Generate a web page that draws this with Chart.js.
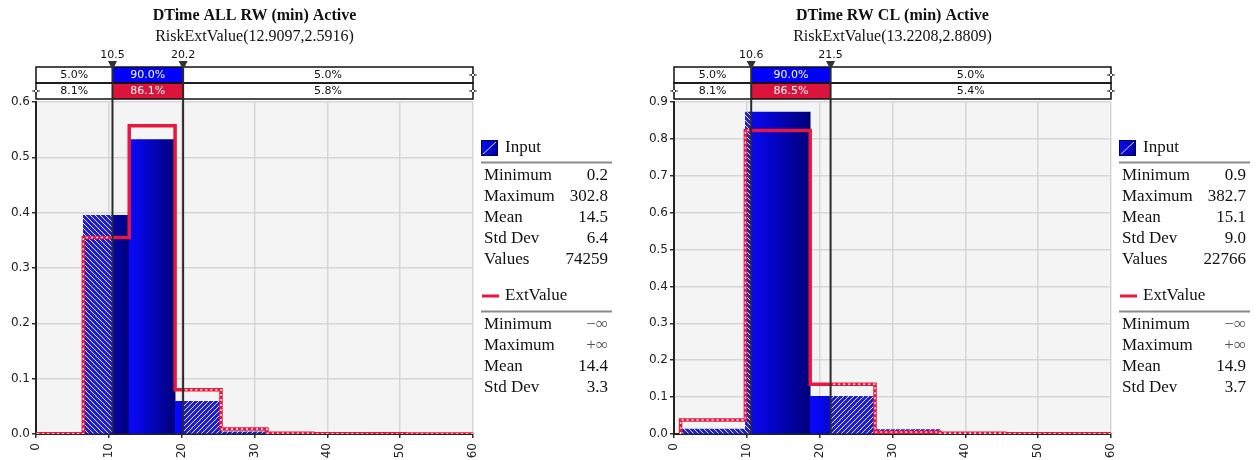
<!DOCTYPE html>
<html>
<head>
<meta charset="utf-8">
<script src="https://cdn.jsdelivr.net/npm/chart.js@4/dist/chart.umd.min.js"></script>
<style>
  html, body { margin: 0; padding: 0; background: #fff; }
  #wrap { position: relative; width: 1260px; height: 460px; overflow: hidden; }
  .panel { position: absolute; top: 0; width: 630px; height: 460px; }
</style>
</head>
<body>
<div id="wrap">
  <div class="panel" style="left:0"><canvas id="chartAll" width="630" height="460"></canvas></div>
  <div class="panel" style="left:630px"><canvas id="chartCl" width="630" height="460"></canvas></div>
</div>
<script>
// ---- DTime ALL RW ----
const allTitle = 'DTime ALL RW (min) Active';
const allSubtitle = 'RiskExtValue(12.9097,2.5916)';
const allBinStart = [0.2, 6.5, 12.8, 19.1, 25.4, 31.7, 38.0, 44.3, 50.6, 56.9];
const allBinWidth = 6.3;
const allInput = [0.0003, 0.395, 0.532, 0.059, 0.004, 0.001, 0.0005, 0.0003, 0.0002, 0.0001];
const allExt   = [0.0005, 0.355, 0.557, 0.080, 0.009, 0.0015, 0.0006, 0.0003, 0.0002, 0.0001];
const allMarks = [10.5, 20.2];
const allInputPct = ['5.0%', '90.0%', '5.0%'];
const allExtPct = ['8.1%', '86.1%', '5.8%'];
const allYMax = 0.6;
const allInputStats = [['Minimum', '0.2'], ['Maximum', '302.8'], ['Mean', '14.5'], ['Std Dev', '6.4'], ['Values', '74259']];
const allExtStats = [['Minimum', '\u2212\u221E'], ['Maximum', '+\u221E'], ['Mean', '14.4'], ['Std Dev', '3.3']];

// ---- DTime RW CL ----
const clTitle = 'DTime RW CL (min) Active';
const clSubtitle = 'RiskExtValue(13.2208,2.8809)';
const clBinStart = [0.9, 9.8, 18.7, 27.6, 36.5, 45.4, 54.3];
const clBinWidth = 8.9;
const clInput = [0.013, 0.873, 0.102, 0.012, 0.003, 0.001, 0.0005];
const clExt   = [0.038, 0.823, 0.135, 0.005, 0.002, 0.001, 0.0005];
const clMarks = [10.6, 21.5];
const clInputPct = ['5.0%', '90.0%', '5.0%'];
const clExtPct = ['8.1%', '86.5%', '5.4%'];
const clYMax = 0.9;
const clInputStats = [['Minimum', '0.9'], ['Maximum', '382.7'], ['Mean', '15.1'], ['Std Dev', '9.0'], ['Values', '22766']];
const clExtStats = [['Minimum', '\u2212\u221E'], ['Maximum', '+\u221E'], ['Mean', '14.9'], ['Std Dev', '3.7']];

const SANS = '"DejaVu Sans", Verdana, sans-serif';
const SERIF = '"Liberation Serif", "Times New Roman", serif';
const RED = '#e8173f';
const CRIMSON = '#dc143c';

Chart.defaults.font.family = SANS;

function hatchPattern(ctx, rising) {
  const c = document.createElement('canvas');
  c.width = 5; c.height = 5;
  const g = c.getContext('2d');
  g.fillStyle = '#1e1ed2';
  g.fillRect(0, 0, 5, 5);
  g.strokeStyle = 'rgba(255,255,255,0.9)';
  g.lineWidth = 1;
  g.beginPath();
  if (rising) {
    g.moveTo(-1, 6); g.lineTo(6, -1);
    g.moveTo(-1, 1); g.lineTo(1, -1);
    g.moveTo(4, 6); g.lineTo(6, 4);
  } else {
    g.moveTo(-1, -1); g.lineTo(6, 6);
    g.moveTo(4, -1); g.lineTo(6, 1);
    g.moveTo(-1, 4); g.lineTo(1, 6);
  }
  g.stroke();
  return ctx.createPattern(c, 'repeat');
}

// clip a dataset to the region inside or outside the two percentile marks
const zoneClip = {
  id: 'zoneClip',
  beforeDatasetDraw(chart, args) {
    const ds = chart.data.datasets[args.index];
    if (!ds.zone) return;
    const { ctx, chartArea: a, scales: { x } } = chart;
    const marks = chart.options.plugins.panel.marks;
    const m0 = x.getPixelForValue(marks[0]);
    const m1 = x.getPixelForValue(marks[1]);
    const top = a.top - 10, h = a.bottom - a.top + 20;
    ctx.save();
    ctx.beginPath();
    if (ds.zone === 'inside') {
      ctx.rect(m0, top, m1 - m0, h);
    } else {
      ctx.rect(a.left - 10, top, m0 - a.left + 10, h);
      ctx.rect(m1, top, a.right - m1 + 10, h);
    }
    ctx.clip();
  },
  afterDatasetDraw(chart, args) {
    const ds = chart.data.datasets[args.index];
    if (ds.zone) chart.ctx.restore();
  }
};

const plotBackground = {
  id: 'plotBackground',
  beforeDraw(chart) {
    const { ctx, chartArea: a } = chart;
    ctx.save();
    ctx.fillStyle = '#f4f4f4';
    ctx.fillRect(a.left, a.top, a.right - a.left, a.bottom - a.top);
    ctx.restore();
  }
};

function endMarker(ctx, x, y) {
  ctx.save();
  ctx.strokeStyle = '#333';
  ctx.lineWidth = 1;
  ctx.beginPath();
  ctx.moveTo(x - 4, y); ctx.lineTo(x + 4, y);
  ctx.moveTo(x, y - 4); ctx.lineTo(x, y + 4);
  ctx.stroke();
  ctx.fillStyle = '#fff';
  ctx.beginPath();
  ctx.moveTo(x, y - 2); ctx.lineTo(x + 2, y); ctx.lineTo(x, y + 2); ctx.lineTo(x - 2, y); ctx.closePath();
  ctx.fill(); ctx.stroke();
  ctx.restore();
}

// titles, percentile band, marker lines and the statistics legend
const panelDecor = {
  id: 'panel',
  afterDraw(chart, args, opts) {
    const { ctx, chartArea: a, scales: { x } } = chart;
    const cx = (a.left + a.right) / 2;
    ctx.save();
    ctx.fillStyle = '#111';
    ctx.textAlign = 'center';
    ctx.textBaseline = 'middle';
    ctx.font = 'bold 16px ' + SERIF;
    ctx.fillText(opts.title, cx, 16);
    ctx.font = '16px ' + SERIF;
    ctx.fillText(opts.subtitle, cx, 37);

    const m0 = x.getPixelForValue(opts.marks[0]);
    const m1 = x.getPixelForValue(opts.marks[1]);
    const r1 = 67, r2 = 83, r3 = 99;

    // band rows
    ctx.fillStyle = '#fff';
    ctx.fillRect(a.left, r1, a.right - a.left, r3 - r1);
    ctx.fillStyle = '#0000ff';
    ctx.fillRect(m0, r1, m1 - m0, r2 - r1);
    ctx.fillStyle = CRIMSON;
    ctx.fillRect(m0, r2, m1 - m0, r3 - r2);
    ctx.strokeStyle = '#111';
    ctx.lineWidth = 1.5;
    ctx.strokeRect(a.left, r1, a.right - a.left, r2 - r1);
    ctx.strokeRect(a.left, r2, a.right - a.left, r3 - r2);

    ctx.font = '11px ' + SANS;
    const rows = [[opts.inputPct, (r1 + r2) / 2], [opts.extPct, (r2 + r3) / 2]];
    rows.forEach(([pct, y]) => {
      ctx.fillStyle = '#111';
      ctx.fillText(pct[0], (a.left + m0) / 2, y + 0.5);
      ctx.fillText(pct[2], (m1 + a.right) / 2, y + 0.5);
      ctx.fillStyle = '#fff';
      ctx.fillText(pct[1], (m0 + m1) / 2, y + 0.5);
    });
    endMarker(ctx, a.right, (r1 + r2) / 2);
    endMarker(ctx, a.left, (r2 + r3) / 2);
    endMarker(ctx, a.right, (r2 + r3) / 2);

    // percentile marker lines
    ctx.strokeStyle = '#2a2a2a';
    ctx.lineWidth = 2;
    [m0, m1].forEach((mx, i) => {
      ctx.beginPath();
      ctx.moveTo(mx, 64);
      ctx.lineTo(mx, a.bottom);
      ctx.stroke();
      ctx.fillStyle = '#333';
      ctx.beginPath();
      ctx.moveTo(mx - 4.5, 61); ctx.lineTo(mx + 4.5, 61); ctx.lineTo(mx, 70); ctx.closePath();
      ctx.fill();
      ctx.fillStyle = '#111';
      ctx.font = '11px ' + SANS;
      ctx.fillText(opts.marks[i].toFixed(1), mx, 55);
    });

    // legend
    const L = a.right;
    ctx.textBaseline = 'middle';
    ctx.font = '17px ' + SERIF;
    const ig = ctx.createLinearGradient(L + 8, 0, L + 25, 0);
    ig.addColorStop(0, '#0a0aff'); ig.addColorStop(1, '#0000a0');
    ctx.fillStyle = ig;
    ctx.fillRect(L + 8, 140, 17, 16);
    ctx.strokeStyle = '#000050'; ctx.lineWidth = 1;
    ctx.strokeRect(L + 8.5, 140.5, 16, 15);
    ctx.strokeStyle = 'rgba(255,255,255,0.85)';
    ctx.beginPath(); ctx.moveTo(L + 10, 154); ctx.lineTo(L + 23, 142); ctx.stroke();
    ctx.fillStyle = '#111';
    ctx.textAlign = 'left';
    ctx.fillText('Input', L + 32, 148);
    ctx.strokeStyle = '#8a8a8a'; ctx.lineWidth = 2;
    ctx.beginPath(); ctx.moveTo(L + 8, 162.5); ctx.lineTo(L + 139, 162.5); ctx.stroke();
    opts.inputStats.forEach(([k, v], i) => {
      const y = 175.5 + 21 * i;
      ctx.fillStyle = '#111';
      ctx.textAlign = 'left'; ctx.fillText(k, L + 11, y);
      ctx.textAlign = 'right'; ctx.fillText(v, L + 135, y);
    });
    ctx.strokeStyle = RED; ctx.lineWidth = 3;
    ctx.beginPath(); ctx.moveTo(L + 9, 296); ctx.lineTo(L + 26, 296); ctx.stroke();
    ctx.fillStyle = '#111';
    ctx.textAlign = 'left';
    ctx.fillText('ExtValue', L + 32, 296);
    ctx.strokeStyle = '#8a8a8a'; ctx.lineWidth = 2;
    ctx.beginPath(); ctx.moveTo(L + 8, 311.5); ctx.lineTo(L + 139, 311.5); ctx.stroke();
    opts.extStats.forEach(([k, v], i) => {
      const y = 324.5 + 21 * i;
      ctx.fillStyle = '#111';
      ctx.textAlign = 'left'; ctx.fillText(k, L + 11, y);
      ctx.fillStyle = v.indexOf('\u221E') >= 0 ? '#555' : '#111';
      ctx.textAlign = 'right'; ctx.fillText(v, L + 135, y);
    });
    ctx.restore();
  }
};

function buildPanel(canvasId, spec) {
  const canvas = document.getElementById(canvasId);
  const ctx2d = canvas.getContext('2d');
  const hatchDown = hatchPattern(ctx2d, false);
  const hatchUp = hatchPattern(ctx2d, true);
  const mid = (spec.marks[0] + spec.marks[1]) / 2;
  const w = spec.binWidth;

  const barPoints = spec.binStart.map((s, i) => ({ x: s + w / 2, y: spec.input[i] }));
  const n = spec.binStart.length;
  const stepPoints = [{ x: spec.binStart[0], y: 0 }]
    .concat(spec.binStart.map((s, i) => ({ x: s, y: spec.ext[i] })))
    .concat([{ x: spec.binStart[n - 1] + w, y: spec.ext[n - 1] }]);

  // horizontal blue-to-navy shading across each bin
  const gradientFill = (c) => {
    const xs = c.chart.scales.x;
    if (c.type !== 'data' || !xs) return '#0000d0';
    const s = spec.binStart[c.dataIndex];
    const x0 = xs.getPixelForValue(s), x1 = xs.getPixelForValue(s + w);
    if (!isFinite(x0) || !isFinite(x1) || x1 <= x0) return '#0000d0';
    const g = c.chart.ctx.createLinearGradient(x0, 0, x1, 0);
    g.addColorStop(0, '#0808ff');
    g.addColorStop(1, '#000078');
    return g;
  };
  const hatchFill = (c) => {
    if (c.type !== 'data') return hatchDown;
    return spec.binStart[c.dataIndex] + w / 2 < mid ? hatchDown : hatchUp;
  };

  const barCommon = { type: 'bar', grouped: false, barPercentage: 1, categoryPercentage: 1, borderWidth: 0 };

  return new Chart(ctx2d, {
    type: 'bar',
    data: {
      datasets: [
        { type: 'line', label: 'ExtValue tails', data: stepPoints, stepped: true, zone: 'outside',
          borderColor: 'rgba(255,255,255,0.95)', borderWidth: 1.4, borderDash: [2, 3],
          pointRadius: 0, fill: false, order: 0 },
        { type: 'line', label: 'ExtValue', data: stepPoints, stepped: true,
          borderColor: RED, borderWidth: 3.5, pointRadius: 0, fill: false, order: 1 },
        Object.assign({ label: 'Input', data: barPoints, zone: 'inside', backgroundColor: gradientFill, order: 2 }, barCommon),
        Object.assign({ label: 'Input tails', data: barPoints, zone: 'outside', backgroundColor: hatchFill, order: 3 }, barCommon)
      ]
    },
    options: {
      responsive: false,
      animation: false,
      events: [],
      layout: { padding: { left: 0, top: 102, right: spec.padRight, bottom: 0 } },
      plugins: {
        legend: { display: false },
        tooltip: { enabled: false },
        title: { display: false },
        panel: {
          title: spec.title, subtitle: spec.subtitle, marks: spec.marks,
          inputPct: spec.inputPct, extPct: spec.extPct,
          inputStats: spec.inputStats, extStats: spec.extStats
        }
      },
      scales: {
        x: {
          type: 'linear', min: 0, max: 60, offset: false,
          afterFit(s) { s.height = 26; },
          ticks: { stepSize: 10, minRotation: 90, maxRotation: 90, padding: 5,
                   color: '#222', font: { size: 12, family: SANS } },
          grid: { offset: false, color: '#d6d6d6', lineWidth: 1.5, tickLength: 4, tickColor: '#333' },
          border: { display: true, color: '#222', width: 2 }
        },
        y: {
          min: 0, max: spec.yMax,
          afterFit(s) { s.width = spec.yAxisWidth; },
          ticks: { stepSize: 0.1, padding: 2, color: '#222', font: { size: 12, family: SANS },
                   callback: (v) => v.toFixed(1) },
          grid: { color: '#d6d6d6', lineWidth: 1.5, tickLength: 4, tickColor: '#333' },
          border: { display: true, color: '#222', width: 2 }
        }
      }
    },
    plugins: [plotBackground, zoneClip, panelDecor]
  });
}

buildPanel('chartAll', {
  title: allTitle, subtitle: allSubtitle, binStart: allBinStart, binWidth: allBinWidth,
  input: allInput, ext: allExt, marks: allMarks, inputPct: allInputPct, extPct: allExtPct,
  yMax: allYMax, inputStats: allInputStats, extStats: allExtStats, padRight: 157, yAxisWidth: 36
});
buildPanel('chartCl', {
  title: clTitle, subtitle: clSubtitle, binStart: clBinStart, binWidth: clBinWidth,
  input: clInput, ext: clExt, marks: clMarks, inputPct: clInputPct, extPct: clExtPct,
  yMax: clYMax, inputStats: clInputStats, extStats: clExtStats, padRight: 149, yAxisWidth: 44
});
</script>
</body>
</html>
